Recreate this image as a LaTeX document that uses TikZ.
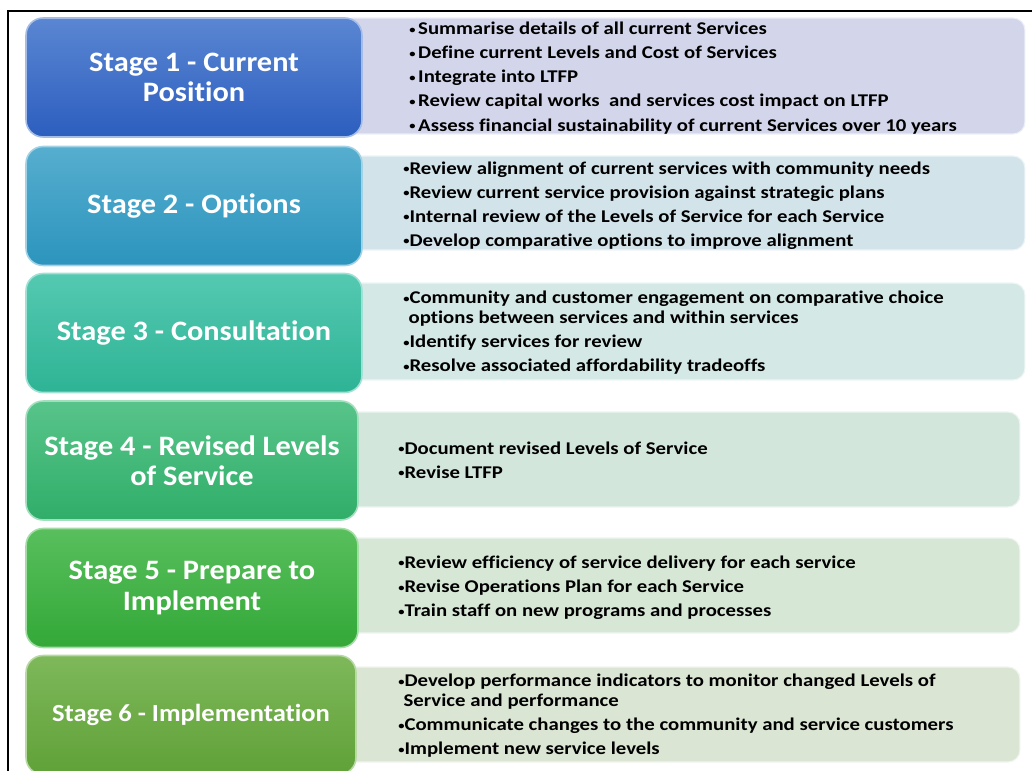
\documentclass[tikz,border=0pt]{standalone}
\usepackage{fontspec}
\setmainfont{Carlito}[Ligatures=NoCommon]
\newfontfamily\titlefont{Carlito}[FakeStretch=1.08, Ligatures=NoCommon]
\newfontfamily\listfont{Carlito}[FakeStretch=1.16, Ligatures=NoCommon]
\usepackage{tikz}
\usetikzlibrary{positioning}

\definecolor{oneTop}{HTML}{5A86D2}
\definecolor{oneBot}{HTML}{2C5EBF}
\definecolor{twoTop}{HTML}{56AECF}
\definecolor{twoBot}{HTML}{2C94BD}
\definecolor{threeTop}{HTML}{54C9B1}
\definecolor{threeBot}{HTML}{2EB395}
\definecolor{fourTop}{HTML}{58C48A}
\definecolor{fourBot}{HTML}{30AE69}
\definecolor{fiveTop}{HTML}{58BF5C}
\definecolor{fiveBot}{HTML}{33A838}
\definecolor{sixTop}{HTML}{7EB85A}
\definecolor{sixBot}{HTML}{60A138}
\definecolor{paneOne}{HTML}{D3D6EA}
\definecolor{paneTwo}{HTML}{D3E3EA}
\definecolor{paneThree}{HTML}{D4E8E6}
\definecolor{paneFour}{HTML}{D3E6DC}
\definecolor{paneFive}{HTML}{D6E7D6}
\definecolor{paneSix}{HTML}{DAE5D3}

% small bullet as in the slide
\newcommand{\dotmark}{\raisebox{0.2ex}{\scalebox{0.6}{•}}}

\begin{document}
\begin{tikzpicture}
           [x=0.02cm, y=-0.02cm,
            stage/.style 2 args = {draw=#1!55!white, line width=0.9pt, top color=#1, bottom color=#2,
                 rounded corners=0.34cm, minimum height=2.38cm, align=center, text=white,
                 font=\titlefont\fontsize{16}{17.2}\selectfont\bfseries, inner sep=0pt},
            pane/.style = {fill=#1, draw=#1!40!white, line width=0.6pt, rounded corners=0.24cm,
                 minimum width=13.7cm, inner sep=0pt},
            bullets/.style = {anchor=west, align=left, inner sep=0pt,
                 font=\listfont\fontsize{10.2}{11.4}\selectfont\bfseries}]
            \clip (0,0) rectangle (1032,771);
            \fill[white] (0,0) rectangle (1032,771);
            % frame
            \draw[line width=0.04cm] (8,775) -- (8,11) -- (1032,11);

            % panels behind the stages
            \node[pane=paneOne, minimum height=2.32cm] (p1) at (682.5,76) {};
            \node[pane=paneTwo, minimum height=1.88cm] (p2) at (682.5,203) {};
            \node[pane=paneThree, minimum height=1.94cm] (p3) at (682.5,331.5) {};
            \node[pane=paneFour, minimum height=1.90cm, minimum width=13.6cm] (p4) at (680,459.5) {};
            \node[pane=paneFive, minimum height=1.90cm, minimum width=13.6cm] (p5) at (680,585.5) {};
            \node[pane=paneSix, minimum height=1.90cm, minimum width=13.6cm] (p6) at (680,714.5) {};

            % stages
            \node[stage={oneTop}{oneBot}, minimum width=6.72cm] (s1) at (194,77.5) {Stage 1 - Current\\Position};
            \node[stage={twoTop}{twoBot}, minimum width=6.72cm] (s2) at (194,206) {Stage 2 - Options};
            \node[stage={threeTop}{threeBot}, minimum width=6.72cm] (s3) at (194,333) {Stage 3 - Consultation};
            \node[stage={fourTop}{fourBot}, minimum width=6.64cm] (s4) at (192,460.5) {Stage 4 - Revised Levels\\of Service};
            \node[stage={fiveTop}{fiveBot}, minimum width=6.64cm] (s5) at (192,588) {Stage 5 - Prepare to\\Implement};
            \node[stage={sixTop}{sixBot}, minimum width=6.60cm,
                  font=\titlefont\fontsize{14}{15}\selectfont\bfseries] (s6) at (191,715) {Stage 6 - Implementation};

            % bullet texts
            \node[bullets] (t1) at (409,78) {\dotmark\kern1.5pt Summarise details of all current Services\\[2.3pt]
                \dotmark\kern1.5pt Define current Levels and Cost of Services\\[2.3pt]
                \dotmark\kern1.5pt Integrate into LTFP\\[2.3pt]
                \dotmark\kern1.5pt Review capital works \ and services cost impact on LTFP\\[2.3pt]
                \dotmark\kern1.5pt Assess financial sustainability of current Services over 10 years};
            \node[bullets] (t2) at (403,205.5) {\dotmark Review alignment of current services with community needs\\[2.3pt]
                \dotmark Review current service provision against strategic plans\\[2.3pt]
                \dotmark Internal review of the Levels of Service for each Service\\[2.3pt]
                \dotmark Develop comparative options to improve alignment};
            \node[bullets] (t3) at (403,333) {\dotmark Community and customer engagement on comparative choice\\
                \hspace*{3pt}options between services and within services\\[2.3pt]
                \dotmark Identify services for review\\[2.3pt]
                \dotmark Resolve associated affordability tradeoffs};
            \node[bullets] (t4) at (398,460) {\dotmark Document revised Levels of Service\\[2.3pt]
                \dotmark Revise LTFP};
            \node[bullets] (t5) at (398,588) {\dotmark Review efficiency of service delivery for each service\\[2.3pt]
                \dotmark Revise Operations Plan for each Service\\[2.3pt]
                \dotmark Train staff on new programs and processes};
            \node[bullets] (t6) at (398,716) {\dotmark Develop performance indicators to monitor changed Levels of\\
                \hspace*{3pt}Service and performance\\[2.3pt]
                \dotmark Communicate changes to the community and service customers\\[2.3pt]
                \dotmark Implement new service levels};
        \end{tikzpicture}
\end{document}
